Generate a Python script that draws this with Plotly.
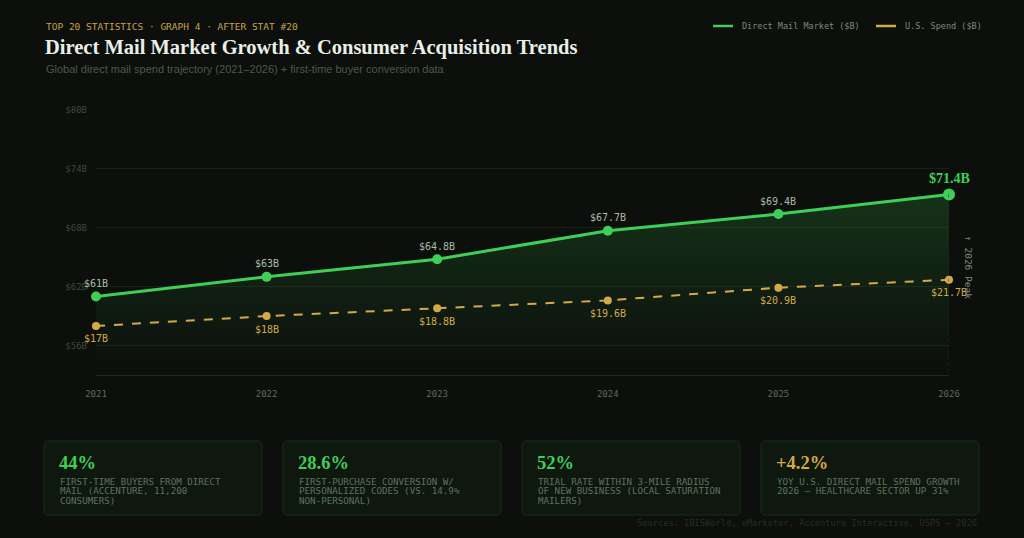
import plotly.graph_objects as go

# ---------------- data ----------------
years = [2021, 2022, 2023, 2024, 2025, 2026]
market = [61, 63, 64.8, 67.7, 69.4, 71.4]
us_spend = [17, 18, 18.8, 19.6, 20.9, 21.7]
market_labels = ["$61B", "$63B", "$64.8B", "$67.7B", "$69.4B", "$71.4B"]
spend_labels = ["$17B", "$18B", "$18.8B", "$19.6B", "$20.9B", "$21.7B"]
y_ticks = [56, 62, 68, 74, 80]
y_tick_labels = ["$56B", "$62B", "$68B", "$74B", "$80B"]
card_values = ["44%", "28.6%", "52%", "+4.2%"]
card_texts = [
    ["FIRST-TIME BUYERS FROM DIRECT", "MAIL (ACCENTURE, 11,200", "CONSUMERS)"],
    ["FIRST-PURCHASE CONVERSION W/", "PERSONALIZED CODES (VS. 14.9%", "NON-PERSONAL)"],
    ["TRIAL RATE WITHIN 3-MILE RADIUS", "OF NEW BUSINESS (LOCAL SATURATION", "MAILERS)"],
    ["YOY U.S. DIRECT MAIL SPEND GROWTH", "2026 — HEALTHCARE SECTOR UP 31%"],
]

# ---------------- style ----------------
W, H = 1024, 538
L, R, T, B = 96, 949, 110, 375
BG = "#0c0f0c"
GREEN = "#3fcf58"
GOLD = "#d4a94a"
MONO = "DejaVu Sans Mono"
SERIF = "Liberation Serif"
SANS = "Liberation Sans"


def px(x):
    return (x - L) / (R - L)


def py(y):
    return (B - y) / (B - T)


fig = go.Figure()

# area + market line
fig.add_trace(go.Scatter(
    x=years, y=market, mode="lines", line=dict(color=GREEN, width=3),
    fill="tozeroy",
    fillgradient=dict(type="vertical", start=53, stop=72,
                      colorscale=[[0, "rgba(40,120,50,0.0)"], [1, "rgba(45,140,55,0.30)"]]),
    hoverinfo="skip", showlegend=False, cliponaxis=False,
))
fig.add_trace(go.Scatter(
    x=years, y=market, mode="markers",
    marker=dict(color=GREEN, size=[10, 10, 10, 10, 10, 12], line=dict(width=0, color=GREEN),
                opacity=1),
    showlegend=False, cliponaxis=False,
))
# US spend (secondary axis)
fig.add_trace(go.Scatter(
    x=years, y=us_spend, mode="lines+markers", yaxis="y2",
    line=dict(color=GOLD, width=2, dash="dash"),
    marker=dict(color=GOLD, size=8, line=dict(width=0, color=GOLD)),
    showlegend=False, cliponaxis=False,
))

annotations = []
for i, (xv, yv, t) in enumerate(zip(years, market, market_labels)):
    last = i == len(years) - 1
    annotations.append(dict(
        x=xv, y=yv, xref="x", yref="y", text=f"<b>{t}</b>" if last else t,
        showarrow=False, yshift=16 if last else 13, xanchor="center", yanchor="middle",
        font=dict(family=SERIF if last else MONO, size=14 if last else 10,
                  color=GREEN if last else "#a7bba7"),
    ))
for xv, yv, t in zip(years, us_spend, spend_labels):
    annotations.append(dict(
        x=xv, y=yv, xref="x", yref="y2", text=t, showarrow=False, yshift=-13,
        xanchor="center", yanchor="middle",
        font=dict(family=MONO, size=10, color=GOLD),
    ))

# vertical peak marker
fig.add_shape(type="line", xref="x", yref="y", x0=years[-1], x1=years[-1],
              y0=market[-1], y1=53, line=dict(color="#243324", width=1, dash="dot"))
annotations.append(dict(
    x=px(969), y=py(267), xref="paper", yref="paper", text="↑ 2026 Peak",
    textangle=90, showarrow=False, xanchor="center", yanchor="middle",
    font=dict(family=MONO, size=9.5, color="#7a8a7a"),
))

# header
annotations += [
    dict(x=px(44), y=py(26), xref="paper", yref="paper", xanchor="left", yanchor="middle",
         text="TOP 20 STATISTICS · GRAPH 4 · AFTER STAT #20", showarrow=False,
         font=dict(family=MONO, size=9.5, color="#c9a24e")),
    dict(x=px(43), y=py(47), xref="paper", yref="paper", xanchor="left", yanchor="middle",
         text="<b>Direct Mail Market Growth & Consumer Acquisition Trends</b>", showarrow=False,
         font=dict(family=SERIF, size=20.5, color="#eaeee8")),
    dict(x=px(44), y=py(69), xref="paper", yref="paper", xanchor="left", yanchor="middle",
         text="Global direct mail spend trajectory (2021–2026) + first-time buyer conversion data",
         showarrow=False, font=dict(family=SANS, size=11, color="#4c584c")),
]

# legend
shapes = []
shapes.append(dict(type="rect", xref="paper", yref="paper", x0=px(0), x1=px(W),
                   y0=py(0), y1=py(3), fillcolor="#c9a45a", line=dict(width=0), layer="above"))
for x0, col, label in [(713, GREEN, "Direct Mail Market ($B)"), (876, GOLD, "U.S. Spend ($B)")]:
    shapes.append(dict(type="line", xref="paper", yref="paper", x0=px(x0), x1=px(x0 + 20),
                       y0=py(26), y1=py(26), line=dict(color=col, width=2.5)))
    annotations.append(dict(x=px(x0 + 27), y=py(26), xref="paper", yref="paper",
                            xanchor="left", yanchor="middle", text=label, showarrow=False,
                            font=dict(family=MONO, size=8.5, color="#7d8a7d")))


# cards
def rounded_path(x0, y0, x1, y1, r):
    X = lambda v: px(v)
    Y = lambda v: py(v)
    return (f"M {X(x0 + r)} {Y(y0)} L {X(x1 - r)} {Y(y0)} Q {X(x1)} {Y(y0)} {X(x1)} {Y(y0 + r)} "
            f"L {X(x1)} {Y(y1 - r)} Q {X(x1)} {Y(y1)} {X(x1 - r)} {Y(y1)} "
            f"L {X(x0 + r)} {Y(y1)} Q {X(x0)} {Y(y1)} {X(x0)} {Y(y1 - r)} "
            f"L {X(x0)} {Y(y0 + r)} Q {X(x0)} {Y(y0)} {X(x0 + r)} {Y(y0)} Z")


card_x = [44, 283, 522, 761]
card_w = 218
for i, cx in enumerate(card_x):
    shapes.append(dict(type="path", xref="paper", yref="paper",
                       path=rounded_path(cx, 441, cx + card_w, 515, 5),
                       fillcolor="#0f180f", line=dict(color="#1a2d1b", width=1), layer="below"))
    annotations.append(dict(x=px(cx + 13), y=py(463), xref="paper", yref="paper",
                            xanchor="left", yanchor="middle", text=f"<b>{card_values[i]}</b>",
                            showarrow=False,
                            font=dict(family=SERIF, size=18.5, color=GOLD if i == 3 else GREEN)))
    for j, line in enumerate(card_texts[i]):
        annotations.append(dict(x=px(cx + 14), y=py(481 + 9.5 * j), xref="paper", yref="paper",
                                xanchor="left", yanchor="middle", text=line, showarrow=False,
                                font=dict(family=MONO, size=9.2, color="#5d735d")))

annotations.append(dict(x=px(979), y=py(523), xref="paper", yref="paper", xanchor="right",
                        yanchor="middle",
                        text="Sources: IBISWorld, eMarketer, Accenture Interactive, USPS — 2026",
                        showarrow=False, font=dict(family=MONO, size=8.7, color="#253025")))

fig.update_layout(
    width=W, height=H,
    margin=dict(l=L, r=W - R, t=T, b=H - B, pad=0),
    paper_bgcolor=BG, plot_bgcolor=BG,
    showlegend=False,
    xaxis=dict(range=[2021, 2026], tickvals=years, ticktext=[str(y) for y in years],
               showgrid=False, zeroline=False, showline=True, linecolor="#1f271f", linewidth=1,
               ticks="", ticklabelstandoff=10,
               tickfont=dict(family=MONO, size=9, color="#5b6b5b")),
    yaxis=dict(range=[53, 80], tickvals=y_ticks, ticktext=y_tick_labels,
               showgrid=True, gridcolor="#182018", gridwidth=1, zeroline=False,
               showline=False, ticks="", ticklabelstandoff=8,
               tickfont=dict(family=MONO, size=9, color="#3d4a3d")),
    yaxis2=dict(range=[12, 39], overlaying="y", side="right", visible=False),
    annotations=annotations,
    shapes=shapes,
    hovermode=False,
)

fig.write_html("out.html")
